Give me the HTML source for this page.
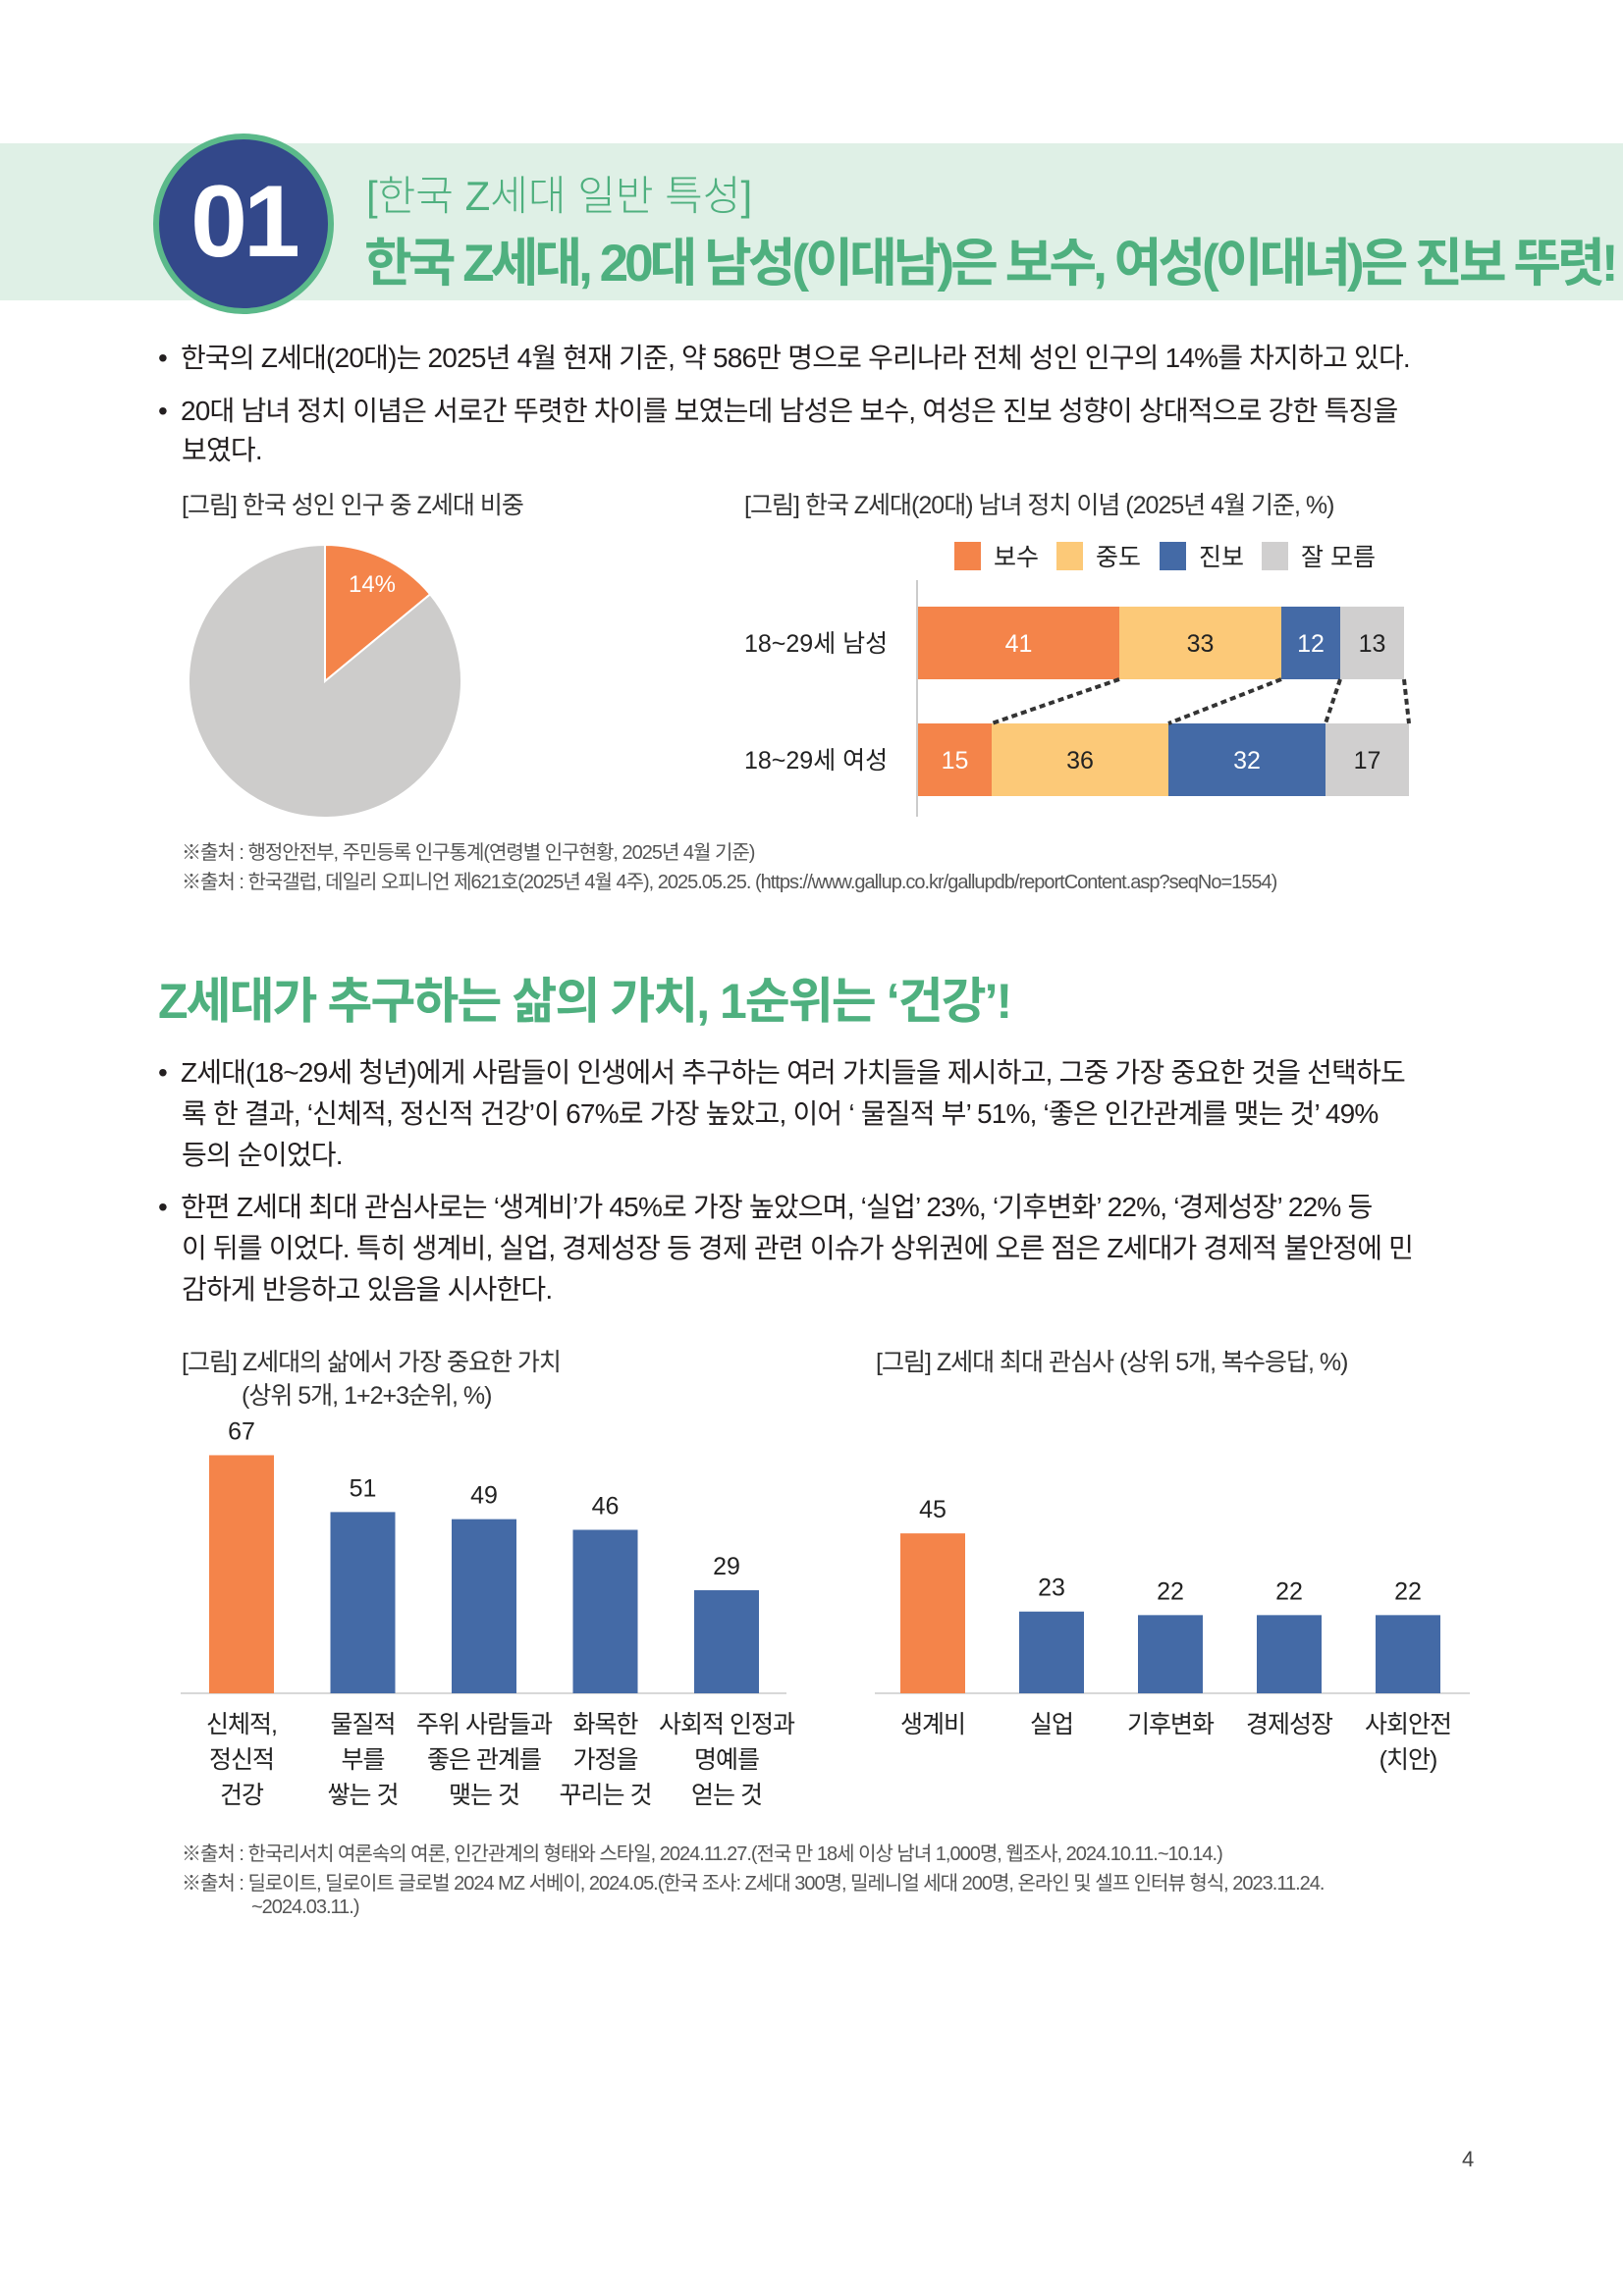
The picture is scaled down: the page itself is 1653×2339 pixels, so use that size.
<!DOCTYPE html>
<html><head><meta charset="utf-8">
<style>
*{margin:0;padding:0;box-sizing:border-box}
body{width:1653px;height:2339px;background:#fff;position:relative;overflow:hidden;font-family:"Liberation Sans","Noto Sans CJK KR",sans-serif;color:#231f20}
.abs{position:absolute;white-space:nowrap}
.band{position:absolute;left:0;top:146px;width:1653px;height:160px;background:#dff0e6}
.circle{position:absolute;left:156px;top:136px;width:184px;height:184px;border-radius:50%;background:#33488a;border:6px solid #5bb98a;color:#fff;font-size:104px;font-weight:bold;text-align:center;line-height:168px;letter-spacing:-4px}
.sub{left:373px;top:166px;font-size:42px;color:#4fb07f;font-weight:300}
.title{left:371px;top:226px;font-size:53px;color:#4fb07f;font-weight:bold;letter-spacing:-4px}
.bul{font-size:28px;color:#231f20;letter-spacing:-0.8px}
.cap{font-size:25px;color:#333;letter-spacing:-1px}
.src{font-size:20px;color:#555;letter-spacing:-1px}
.h2{left:161px;top:980px;font-size:50px;color:#4fb07f;font-weight:bold;letter-spacing:-2px}
svg text{font-family:"Liberation Sans","Noto Sans CJK KR",sans-serif}
</style></head><body>
<div class="band"></div>
<div class="circle">01</div>
<div class="abs sub">[한국 Z세대 일반 특성]</div>
<div class="abs title">한국 Z세대, 20대 남성(이대남)은 보수, 여성(이대녀)은 진보 뚜렷!</div>

<div class="abs bul" style="left:161px;top:343px">•&nbsp; 한국의 Z세대(20대)는 2025년 4월 현재 기준, 약 586만 명으로 우리나라 전체 성인 인구의 14%를 차지하고 있다.</div>
<div class="abs bul" style="left:161px;top:397px">•&nbsp; 20대 남녀 정치 이념은 서로간 뚜렷한 차이를 보였는데 남성은 보수, 여성은 진보 성향이 상대적으로 강한 특징을</div>
<div class="abs bul" style="left:185px;top:437px">보였다.</div>

<div class="abs cap" style="left:185px;top:495px">[그림] 한국 성인 인구 중 Z세대 비중</div>
<div class="abs cap" style="left:758px;top:495px">[그림] 한국 Z세대(20대) 남녀 정치 이념 (2025년 4월 기준, %)</div>

<svg class="abs" style="left:0;top:0" width="1653" height="2339" id="charts"></svg>

<div class="abs src" style="left:185px;top:852px">※출처 : 행정안전부, 주민등록 인구통계(연령별 인구현황, 2025년 4월 기준)</div>
<div class="abs src" style="left:185px;top:882px">※출처 : 한국갤럽, 데일리 오피니언 제621호(2025년 4월 4주), 2025.05.25. (https://www.gallup.co.kr/gallupdb/reportContent.asp?seqNo=1554)</div>

<div class="abs h2">Z세대가 추구하는 삶의 가치, 1순위는 ‘건강’!</div>

<div class="abs bul" style="left:161px;top:1071px">•&nbsp; Z세대(18~29세 청년)에게 사람들이 인생에서 추구하는 여러 가치들을 제시하고, 그중 가장 중요한 것을 선택하도</div>
<div class="abs bul" style="left:185px;top:1113px">록 한 결과, ‘신체적, 정신적 건강’이 67%로 가장 높았고, 이어 ‘ 물질적 부’ 51%, ‘좋은 인간관계를 맺는 것’ 49%</div>
<div class="abs bul" style="left:185px;top:1155px">등의 순이었다.</div>
<div class="abs bul" style="left:161px;top:1208px">•&nbsp; 한편 Z세대 최대 관심사로는 ‘생계비’가 45%로 가장 높았으며, ‘실업’ 23%, ‘기후변화’ 22%, ‘경제성장’ 22% 등</div>
<div class="abs bul" style="left:185px;top:1250px">이 뒤를 이었다. 특히 생계비, 실업, 경제성장 등 경제 관련 이슈가 상위권에 오른 점은 Z세대가 경제적 불안정에 민</div>
<div class="abs bul" style="left:185px;top:1292px">감하게 반응하고 있음을 시사한다.</div>

<div class="abs cap" style="left:185px;top:1368px">[그림] Z세대의 삶에서 가장 중요한 가치</div>
<div class="abs cap" style="left:246px;top:1402px">(상위 5개, 1+2+3순위, %)</div>
<div class="abs cap" style="left:892px;top:1368px">[그림] Z세대 최대 관심사 (상위 5개, 복수응답, %)</div>

<div class="abs src" style="left:185px;top:1872px">※출처 : 한국리서치 여론속의 여론, 인간관계의 형태와 스타일, 2024.11.27.(전국 만 18세 이상 남녀 1,000명, 웹조사, 2024.10.11.~10.14.)</div>
<div class="abs src" style="left:185px;top:1902px">※출처 : 딜로이트, 딜로이트 글로벌 2024 MZ 서베이, 2024.05.(한국 조사: Z세대 300명, 밀레니얼 세대 200명, 온라인 및 셀프 인터뷰 형식, 2023.11.24.</div>
<div class="abs src" style="left:256px;top:1932px">~2024.03.11.)</div>
<div class="abs" style="left:1489px;top:2187px;font-size:22px;color:#444">4</div>

<script>
// Pie data
const pieLabels=["Z세대","기타"];
const pieValues=[14,86];
// Stacked bar data
const stackGroups=["18~29세 남성","18~29세 여성"];
const stackSeries=["보수","중도","진보","잘 모름"];
const stackMale=[41,33,12,13];
const stackFemale=[15,36,32,17];
// Values chart
const valueCats=[["신체적,","정신적","건강"],["물질적","부를","쌓는 것"],["주위 사람들과","좋은 관계를","맺는 것"],["화목한","가정을","꾸리는 것"],["사회적 인정과","명예를","얻는 것"]];
const valueVals=[67,51,49,46,29];
// Concerns chart
const concernCats=[["생계비"],["실업"],["기후변화"],["경제성장"],["사회안전","(치안)"]];
const concernVals=[45,23,22,22,22];

const NS="http://www.w3.org/2000/svg";
const svg=document.getElementById('charts');
function mk(tag,attrs,parent){const e=document.createElementNS(NS,tag);for(const k in attrs)e.setAttribute(k,attrs[k]);(parent||svg).appendChild(e);return e;}
const COL=["#f4844a","#fcc978","#446aa6","#d0cfcf"];

// Pie
const cx=331,cy=694,r=139;
const total=pieValues.reduce((a,b)=>a+b,0);
let ang=-Math.PI/2;
pieValues.forEach((v,i)=>{
  const a2=ang+v/total*2*Math.PI;
  const large=(a2-ang)>Math.PI?1:0;
  const p=mk('path',{d:`M${cx},${cy} L${cx+r*Math.cos(ang)},${cy+r*Math.sin(ang)} A${r},${r} 0 ${large} 1 ${cx+r*Math.cos(a2)},${cy+r*Math.sin(a2)} Z`,fill:i==0?COL[0]:"#cdcccb",stroke:"#fff","stroke-width":2});
  
  
  if(i==0){const t=mk('text',{x:cx+48,y:cy-91,fill:"#fff","font-size":24,"text-anchor":"middle"});t.textContent=v+"%";
    
    }
  ang=a2;
});

// Stacked bars
const sx0=935,sUnit=5.0;
const sxs=v=>sx0+v*sUnit;
mk('line',{x1:934,y1:591,x2:934,y2:832,stroke:"#bbb","stroke-width":1.5});
const legX=[972,1076,1181,1285];
stackSeries.forEach((s,i)=>{
  const rc=mk('rect',{x:legX[i],y:552,width:27,height:29,fill:COL[i]});
  
  
  const t=mk('text',{x:legX[i]+40,y:576,"font-size":25,fill:"#222"});t.textContent=s;
  
  
});
const rowsY=[618,737],bh=74;
const bounds=[];
[stackMale,stackFemale].forEach((vals,gi)=>{
  const y=rowsY[gi];let cum=0;const b=[];
  const lbl=mk('text',{x:758,y:y+bh/2+9,"font-size":25,fill:"#222"});lbl.textContent=stackGroups[gi];
  
  
  vals.forEach((v,i)=>{
    const rc=mk('rect',{x:sxs(cum),y:y,width:v*sUnit,height:bh,fill:COL[i]});
    
    
    const t=mk('text',{x:sxs(cum+v/2),y:y+bh/2+9,"font-size":25,"text-anchor":"middle",fill:(i==0||i==2)?"#fff":"#222"});t.textContent=v;
    
    
    cum+=v;b.push(cum);
  });
  bounds.push(b);
});
for(let i=0;i<4;i++){
  const l=mk('line',{x1:sxs(bounds[0][i]),y1:rowsY[0]+bh,x2:sxs(bounds[1][i]),y2:rowsY[1],stroke:"#333","stroke-width":4,"stroke-dasharray":"6,4"});
  
  
}

// Vertical bar charts
function barChart(cats,vals,axisX1,axisX2,centers0,step,prefix){
  const base=1725,unit=3.62,w=66;
  mk('line',{x1:axisX1,y1:base,x2:axisX2,y2:base,stroke:"#ccc","stroke-width":1.5});
  vals.forEach((v,i)=>{
    const cxp=centers0+i*step;const h=v*unit;
    const rc=mk('rect',{x:cxp-w/2,y:base-h,width:w,height:h,fill:i==0?COL[0]:COL[2]});
    
    
    const t=mk('text',{x:cxp,y:base-h-16,"font-size":25,"text-anchor":"middle",fill:"#222"});t.textContent=v;
    
    
    cats[i].forEach((ln,j)=>{
      const c=mk('text',{x:cxp,y:1765+j*36,"font-size":25,"text-anchor":"middle",fill:"#222","letter-spacing":"-1"});c.textContent=ln;
      
      
    });
  });
}
barChart(valueCats,valueVals,184,801,246,123.5,'values');
barChart(concernCats,concernVals,891,1497,950,121,'concerns');
</script>
</body></html>
